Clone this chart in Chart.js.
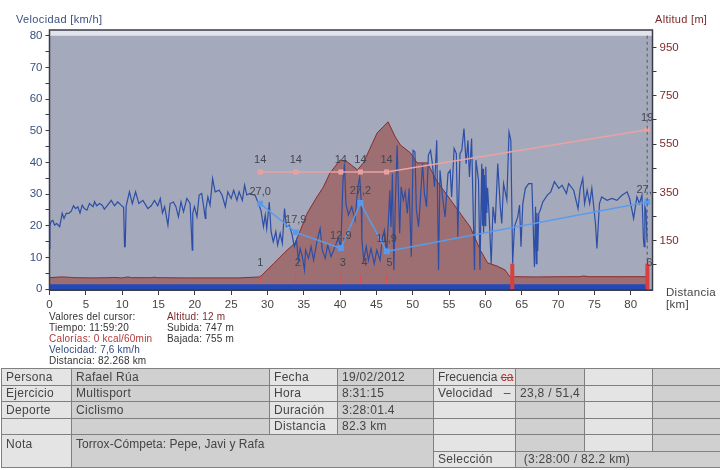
<!DOCTYPE html>
<html>
<head>
<meta charset="utf-8">
<script src="https://cdn.jsdelivr.net/npm/chart.js@4"></script>
<style>
body { margin: 0; background: #fff; font-family: "Liberation Sans", Arial, sans-serif; }
#wrap { position: relative; width: 720px; height: 470px; overflow: hidden; }
#chart { position: absolute; left: 0; top: 0; }
.t { position: absolute; white-space: nowrap; font-size: 10px; letter-spacing: .2px; line-height: 11px; color: #333; }
table { position: absolute; left: 1px; top: 368px; width: 719px; height: 100px; table-layout: fixed; border-collapse: collapse; font-size: 12px; letter-spacing: .3px; color: #444; }
td { border: 1px solid #808080; padding: 0 4px; white-space: nowrap; overflow: hidden; height: 15px; vertical-align: middle; }
.a { background: #e4e4e4; }
.b { background: #d0d0d0; }
.top { vertical-align: top; padding-top: 2px; }
</style>
</head>
<body>
<div id="wrap">
  <canvas id="chart" width="720" height="345"></canvas>
  <div class="t" style="left:16px;top:14px;font-size:11px;letter-spacing:.35px;color:#3a5080">Velocidad [km/h]</div>
  <div class="t" style="left:655px;top:14px;font-size:11px;letter-spacing:.3px;color:#7c2a2a">Altitud [m]</div>
  <div class="t" style="left:666px;top:286px;font-size:11.5px;letter-spacing:.3px;line-height:12px;color:#444">Distancia<br>[km]</div>
  <div class="t" style="left:49px;top:311px">Valores del cursor:</div>
  <div class="t" style="left:49px;top:322px">Tiempo: 11:59:20</div>
  <div class="t" style="left:49px;top:333px;color:#b03a3a">Calorías: 0 kcal/60min</div>
  <div class="t" style="left:49px;top:344px;color:#2f4a80">Velocidad: 7,6 km/h</div>
  <div class="t" style="left:49px;top:355px">Distancia: 82.268 km</div>
  <div class="t" style="left:167px;top:311px;color:#7c2a2a">Altitud: 12 m</div>
  <div class="t" style="left:167px;top:322px">Subida: 747 m</div>
  <div class="t" style="left:167px;top:333px">Bajada: 755 m</div>
  <table>
    <colgroup>
      <col style="width:70px"><col style="width:198px"><col style="width:68px"><col style="width:96px">
      <col style="width:82px"><col style="width:69px"><col style="width:68px"><col style="width:68px">
    </colgroup>
    <tr><td class="a">Persona</td><td class="b">Rafael Rúa</td><td class="a">Fecha</td><td class="b">19/02/2012</td>
        <td class="a" style="letter-spacing:0;padding-right:0">Frecuencia <span style="color:#a33;text-decoration:line-through">ca</span></td><td class="b"></td><td class="a"></td><td class="b"></td></tr>
    <tr><td class="a">Ejercicio</td><td class="b">Multisport</td><td class="a">Hora</td><td class="b">8:31:15</td>
        <td class="a">Velocidad &nbsp;&nbsp;<span style="color:#2f4a90">&#8211;</span></td><td class="b">23,8 / 51,4</td><td class="a"></td><td class="b"></td></tr>
    <tr><td class="a">Deporte</td><td class="b">Ciclismo</td><td class="a">Duración</td><td class="b">3:28:01.4</td>
        <td class="a"></td><td class="b"></td><td class="a"></td><td class="b"></td></tr>
    <tr><td class="a"></td><td class="b"></td><td class="a">Distancia</td><td class="b">82.3 km</td>
        <td class="a"></td><td class="b"></td><td class="a"></td><td class="b"></td></tr>
    <tr><td class="a top" rowspan="2">Nota</td><td class="b top" colspan="3" rowspan="2" style="letter-spacing:.05px">Torrox-Cómpeta: Pepe, Javi y Rafa</td>
        <td class="a"></td><td class="b"></td><td class="a"></td><td class="b"></td></tr>
    <tr><td class="a">Selección</td><td class="b" colspan="3">&nbsp;(3:28:00 / 82.2 km)</td></tr>
  </table>
</div>
<script>
// speed trace
const speedKm = [0,0.05,0.2,0.45,0.7,1,1.4,1.75,2,2.3,2.65,3,3.3,3.6,3.9,4.2,4.5,4.8,5.15,5.5,6,6.2,6.5,6.9,7.25,7.55,8,8.5,8.95,9.4,9.85,10.2,10.33,10.42,10.55,11,11.4,11.85,12.3,12.85,13.55,14,14.45,14.9,
  15.25,15.55,15.85,16.3,16.6,17.05,17.4,17.75,18.1,18.45,18.9,19.35,19.65,19.72,19.95,20.3,20.6,20.95,21.45,21.52,21.8,22.1,22.45,22.8,23.35,23.75,24.2,24.55,25,25.35,25.8,26.1,26.55,26.85,27.15,27.6,28.05,
  28.3,28.75,29.1,29.45,29.7,29.9,30.25,30.5,30.8,31.15,31.4,31.75,32.05,32.35,32.6,33,33.35,33.7,34,34.25,34.5,34.8,35.1,35.25,35.65,36,36.35,36.8,37.25,37.55,37.95,38.3,38.75,39.2,39.75,40.1,40.4,40.6,40.8,41.15,41.6,42.05,42.45,42.7,42.9,43,43.25,43.6,43.9,44.25,44.7,45.05,45.5,45.85,46.1,46.4,
  46.65,46.85,47,47.2,47.4,47.6,47.85,48.05,48.2,48.4,48.7,48.95,49.25,49.5,49.8,50.05,50.3,50.5,50.8,51.05,51.35,51.6,51.9,52.15,52.45,52.7,53,53.3,53.55,53.75,54.1,54.45,54.85,55.15,55.35,55.7,56,56.2,56.5,56.75,57.05,57.35,57.6,57.8,58.1,58.5,58.7,59.05,59.25,59.5,59.6,59.68,59.75,59.85,59.95,60.05,60.2,60.3,60.5,60.8,61.05,61.35,61.7,62.05,62.25,62.5,62.95,63.25,
  63.5,63.75,64,64.45,64.7,64.9,65.15,65.5,65.95,66.4,66.75,66.9,67,67.1,67.2,67.35,67.55,67.9,68.5,69,69.5,70.1,70.55,71.15,71.45,72.15,72.75,73.05,73.4,73.65,74,74.35,74.65,75.15,75.35,75.7,76,76.75,77.4,78.1,78.8,79.5,79.85,80.4,80.85,81.2,81.55,81.75,81.85,81.95,82.1,82.25];
const speedValues = [12.8,20,21.2,21.7,20.2,20.7,19.7,23.9,22.3,23.9,23.9,24.6,26.3,25.4,26,24,26.5,25.4,24.9,27,26,27.6,26.3,27,26.5,25.2,26.5,28,26.3,27.5,26.5,25.8,13.4,13.4,26.2,30.7,27,30.7,27,28,25.4,26.3,28,26.3,
  28.6,24,26,20.2,27,27.5,26,22.8,27.5,24.4,28.6,27,12.3,24,26,22.8,29.7,30.2,22.3,25,29.1,26.5,34.9,30.7,31.2,29.7,26,30.7,28.6,31.2,28,30.7,28,32.8,29.7,30.2,29.7,
  29.7,27,24.9,19.7,23.4,19.1,27.5,18.1,14.9,18.1,13.9,17.6,14.4,25.4,19.7,20.2,17.6,13.4,15.5,9.1,12.8,10.2,6,12.3,9.7,13.4,9.1,14.9,19.1,12.3,9.7,13.9,10.2,12.8,16,13.4,34.4,39.6,27,23.4,26,21.8,32.3,35.4,28,15.5,9.1,13.4,9.1,12.8,8,12.3,9.1,16.5,18.6,11.2,
  21.8,31.2,19.6,36.5,6,27,45.4,29.1,17.6,32.3,28.1,30.7,23.9,31.8,10.2,43.8,43.3,25,19.7,28.1,39.6,30.2,26,42.3,43.8,39.6,32.3,47,6,37.5,29.1,22.8,36.5,37.5,29.1,44.4,42.8,16.5,42.8,43.8,50.7,39.6,47,35.4,47.5,6,40.7,34.4,6,39.6,20,38,17.6,36,20,38.6,24,32,23.9,8,26,20.7,39.6,26,20.7,33.3,28.1,49.6,
  47,8,19.7,22.8,26.5,13.4,27,31.8,33.3,33.3,7,26,8,24,12,24,24.9,27.5,29.6,30.7,33.9,31.8,32.8,30.2,33.3,31.2,25.4,31.8,34.9,27,31.2,27,31.8,20.7,12.8,27,29.1,28,28.6,28,29.6,30.7,28.6,22.3,29.1,27,29.6,16,13.4,26,24.9,15.4];

// altitude profile
const altKm = [0,1.5,1.9,3,3.4,6,8.2,8.7,10,10.8,11.3,14,14.4,14.9,19,22.5,26,29,30.8,32.7,33.8,35.5,36.8,37.7,38.6,40,41,42.4,43.2,45.1,46.6,47.6,48.3,49.7,50.6,52,53.4,55.2,56.5,57.9,59.3,60.3,61.6,62.7,63.4,64,67,71,73,73.5,74.2,78,82.27];
const altMeters = [-3,0,0,-2,-3,-4,-3,-2,-4,0,-3,-3,-1,-3,-4,-4,-4,0,54,111,140,265,331,372,430,484,476,443,472,596,642,579,546,513,472,472,393,319,265,207,111,58,45,29,0,1,0,1,1,4,1,1,1];

// lap summaries
const lapKm = [29,33.9,40.1,42.8,46.4,82.27];
const lapSpeed = [27.0,17.9,12.9,27.2,11.9,27.5];
const lapOther = [14,14,14,14,14,19];
const lapNumbers = [1,2,3,4,5,6];
const lapNumberShift = [0,2,2,4,3,2];
const markerKm = [29,33.9,40.1,42.8,46.4];
const thickMarkerKm = [63.7,82.3];
const cursorKm = 82.27;

const xTicks = [0,5,10,15,20,25,30,35,40,45,50,55,60,65,70,75,80];
const speedTicks = [0,5,10,15,20,25,30,35,40,45,50,55,60,65,70,75,80];
const altTicks = [50,150,250,350,450,550,650,750,850,950];
const altLabels = [150,350,550,750,950];

function xy(xs, ys) {
  return xs.map((x, i) => ({ x: x, y: ys[i] }));
}
// vertical marks joined in one dataset, separated by gaps
function bars(kms, from, to) {
  const out = [];
  kms.forEach(k => {
    out.push({ x: k, y: from }, { x: k, y: to }, { x: k, y: NaN });
  });
  return out;
}
function plain(extra) {
  return Object.assign({ pointRadius: 0, tension: 0, fill: false, yAxisID: 'y' }, extra);
}

const plotBackground = {
  id: 'plotBackground',
  beforeDatasetsDraw(chart) {
    const { ctx, chartArea: a, scales } = chart;
    const y80 = scales.y.getPixelForValue(80);
    ctx.save();
    ctx.fillStyle = '#e1e4ea';
    ctx.fillRect(a.left, a.top, a.width, y80 - a.top);
    ctx.fillStyle = '#a5a9bc';
    ctx.fillRect(a.left, y80, a.width, a.bottom - y80);
    ctx.restore();
  },
  afterDraw(chart) {
    const { ctx, chartArea: a } = chart;
    ctx.save();
    ctx.strokeStyle = '#3a3d48';
    ctx.lineWidth = 1.5;
    ctx.strokeRect(a.left, a.top, a.width, a.height);
    ctx.restore();
  }
};

// numbers above the lap points, and lap numbers
const lapText = {
  id: 'lapText',
  afterDatasetsDraw(chart) {
    const { ctx, chartArea: a, scales } = chart;
    ctx.save();
    ctx.beginPath();
    ctx.rect(a.left, a.top, a.width, a.height);
    ctx.clip();
    ctx.font = '11px "Liberation Sans", Arial, sans-serif';
    ctx.fillStyle = '#44464f';
    ctx.textAlign = 'center';
    ctx.textBaseline = 'middle';
    lapKm.forEach((k, i) => {
      const x = scales.x.getPixelForValue(k);
      ctx.fillText(lapSpeed[i].toFixed(1).replace('.', ','), x, scales.y.getPixelForValue(lapSpeed[i]) - 12);
      ctx.fillText(String(lapOther[i]), x, scales.yLap.getPixelForValue(lapOther[i]) - 12);
      ctx.fillText(String(lapNumbers[i]), x + lapNumberShift[i], scales.y.getPixelForValue(8.2));
    });
    ctx.restore();
  }
};

new Chart(document.getElementById('chart'), {
  type: 'line',
  data: {
    datasets: [
      plain({ data: bars(thickMarkerKm, 0, 8), borderColor: '#d8403f', borderWidth: 4 }),
      plain({ data: bars(markerKm, 1.5, 4.4), borderColor: '#d8504f', borderWidth: 1 }),
      plain({ data: [{ x: cursorKm, y: 80 }, { x: cursorKm, y: 0 }], borderColor: '#555866', borderWidth: 1, borderDash: [3, 3] }),
      { data: xy(lapKm, lapOther), yAxisID: 'yLap', borderColor: '#e9a3a3', backgroundColor: '#ee9a9a', borderWidth: 1.5, pointStyle: 'rect', pointRadius: 2.5, tension: 0, fill: false },
      { data: xy(lapKm, lapSpeed), yAxisID: 'y', borderColor: '#5a9cec', backgroundColor: '#4f9bf0', borderWidth: 1.5, pointStyle: 'rect', pointRadius: 3, tension: 0, fill: false },
      plain({ data: xy(speedKm, speedValues), borderColor: '#2c4ea6', borderWidth: 1.2 }),
      plain({ data: [{ x: 0, y: 1.5 }, { x: 82.27, y: 1.5 }], borderWidth: 0, backgroundColor: '#2349b8', fill: 'start' }),
      plain({ data: xy(altKm, altMeters), yAxisID: 'yAlt', borderColor: '#8a2b2b', borderWidth: 1, backgroundColor: '#9d6f73', fill: 'start' })
    ]
  },
  options: {
    responsive: false,
    animation: false,
    devicePixelRatio: 1,
    layout: { padding: { top: 30, left: 0, right: 0, bottom: 0 } },
    plugins: { legend: { display: false }, tooltip: { enabled: false } },
    elements: { line: { borderCapStyle: 'butt' } },
    scales: {
      x: {
        type: 'linear', min: 0, max: 83,
        afterBuildTicks: s => { s.ticks = xTicks.map(v => ({ value: v })); },
        afterFit: s => { s.height = 55; },
        grid: { drawOnChartArea: false, tickLength: 5, tickColor: '#3a3d48' },
        border: { color: '#3a3d48' },
        ticks: { color: '#444', padding: 3, maxRotation: 0, autoSkip: false, font: { size: 11.5 }, callback: v => String(v) }
      },
      y: {
        position: 'left', min: -0.3, max: 81.8,
        afterBuildTicks: s => { s.ticks = speedTicks.map(v => ({ value: v })); },
        afterFit: s => { s.width = 49.5; },
        grid: { drawOnChartArea: false, tickLength: 4, tickColor: '#3a3d48' },
        border: { color: '#3a3d48' },
        ticks: { color: '#3a5080', padding: 3, autoSkip: false, font: { size: 11.5 }, callback: v => (v % 10 === 0 ? String(v) : '') }
      },
      yAlt: {
        position: 'right', min: -54, max: 1022,
        afterBuildTicks: s => { s.ticks = altTicks.map(v => ({ value: v })); },
        afterFit: s => { s.width = 67.5; },
        grid: { drawOnChartArea: false, tickLength: 4, tickColor: '#3a3d48' },
        border: { color: '#3a3d48' },
        ticks: { color: '#7c2a2a', padding: 3, autoSkip: false, font: { size: 11.5 }, callback: v => (altLabels.includes(v) ? String(v) : '') }
      },
      yLap: { display: false, min: 0, max: 30.84 }
    }
  },
  plugins: [plotBackground, lapText]
});
</script>
</body>
</html>
